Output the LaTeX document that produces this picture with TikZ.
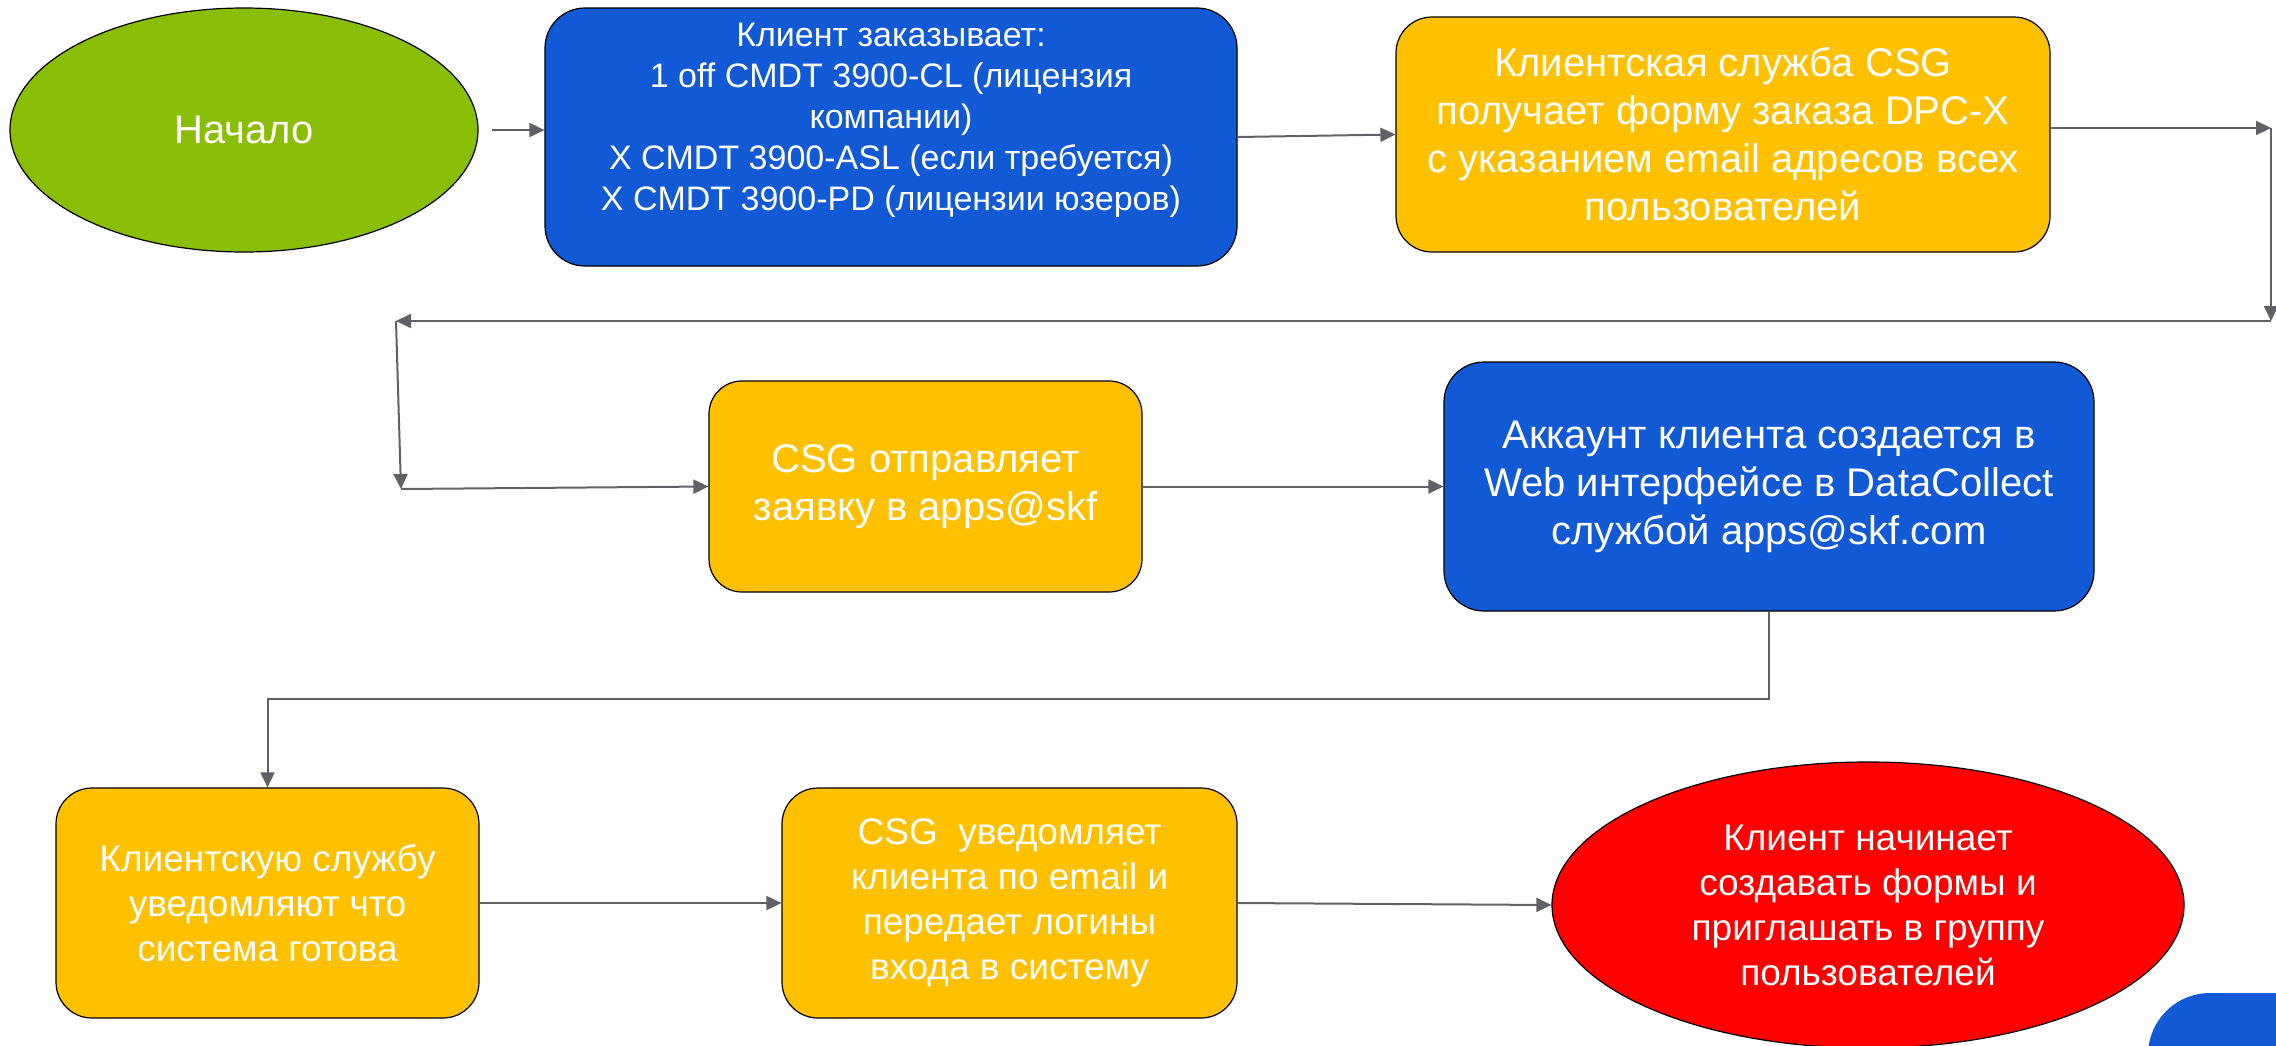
\documentclass[tikz,border=0pt]{standalone}
\usepackage{fontspec}
\setmainfont{Liberation Sans}
\usetikzlibrary{shapes.geometric,arrows.meta,calc}
\definecolor{cgreen}{RGB}{138,190,4}
\definecolor{cblue}{RGB}{18,89,213}
\definecolor{cyellow}{RGB}{255,192,0}
\definecolor{cred}{RGB}{255,0,0}
\definecolor{cline}{RGB}{96,97,102}
\tikzset{
  box/.style={draw=black, line width=1.2pt, rounded corners=36pt, inner sep=0pt, align=center, text=white},
  yellowbox/.style={box, fill=cyellow},
  bluebox/.style={box, fill=cblue},
  oval/.style={ellipse, draw=black, line width=1.2pt, inner sep=0pt, align=center, text=white},
  fbig/.style={font=\fontsize{40}{48}\selectfont},
  fmid/.style={font=\fontsize{37}{45}\selectfont},
  fsmall/.style={font=\fontsize{34}{41}\selectfont},
  conn/.style={draw=cline, line width=2pt, -{Triangle[length=15pt,width=14pt]}},
  plain/.style={draw=cline, line width=2pt},
}
\begin{document}
\begin{tikzpicture}[x=1pt,y=-1pt]
\useasboundingbox (0,0) rectangle (2276,1045);
\clip (0,0) rectangle (2276,1045);
\fill[white] (0,0) rectangle (2276,1045);

% nodes
\node[oval, fill=cgreen, fbig, minimum width=468pt, minimum height=244pt] (start) at (244,130) {Начало};
\node[bluebox, rounded corners=40pt, minimum width=692pt, minimum height=258pt] (order) at (891,137) {};
\node[text=white, fsmall, align=center, inner sep=0pt] (ordertext) at (891,120) {Клиент заказывает:\\1 off CMDT 3900-CL (лицензия\\компании)\\X CMDT 3900-ASL (если требуется)\\X CMDT 3900-PD (лицензии юзеров)};
\node[yellowbox, fbig, minimum width=654pt, minimum height=235pt] (csgform) at (1723,134.5) {Клиентская служба CSG\\получает форму заказа DPC-X\\с указанием email адресов всех\\пользователей};
\node[yellowbox, fbig, rounded corners=33pt, minimum width=433pt, minimum height=211pt] (send) at (925.5,486.5) {CSG отправляет\\заявку в apps@skf};
\node[bluebox, fbig, rounded corners=40pt, minimum width=650pt, minimum height=249pt] (account) at (1769,486.5) {Аккаунт клиента создается в\\Web интерфейсе в DataCollect\\службой apps@skf.com};
\node[yellowbox, fmid, minimum width=423pt, minimum height=230pt] (ready) at (267.5,903) {Клиентскую службу\\уведомляют что\\система готова};
\node[yellowbox, fmid, minimum width=455pt, minimum height=230pt] (notify) at (1009.5,903) {CSG~ уведомляет\\клиента по email и\\передает логины\\входа в систему};
\node[oval, fill=cred, fmid, minimum width=632pt, minimum height=286pt] (finish) at (1868,905) {Клиент начинает\\создавать формы и\\приглашать в группу\\пользователей};

% partial shape at bottom right
\fill[cblue, rounded corners=62pt] (2148,993) rectangle (2420,1200);

% coordinates
\coordinate (c1) at (2271,128);
\coordinate (c2) at (2271,321);
\coordinate (c3) at (396,321);
\coordinate (c4) at (401,489);
\coordinate (c5) at (267.5,699);

% connectors
\draw[conn] ([xshift=13pt]start.east) -- (start.east -| order.west);
\draw[conn] (order.east) -- (csgform.west);
\draw[conn] (csgform.east |- c1) -- (c1);
\draw[conn] (c1) -- (c2);
\draw[conn] (c2) -- (c3);
\draw[conn] (c3) -- (c4);
\draw[conn] (c4) -- (send.west);
\draw[conn] (send.east) -- (account.west);
\draw[conn] (account.south) |- (c5) -- (ready.north);
\draw[conn] (ready.east) -- (notify.west);
\draw[conn] (notify.east) -- (finish.west);
\end{tikzpicture}
\end{document}
